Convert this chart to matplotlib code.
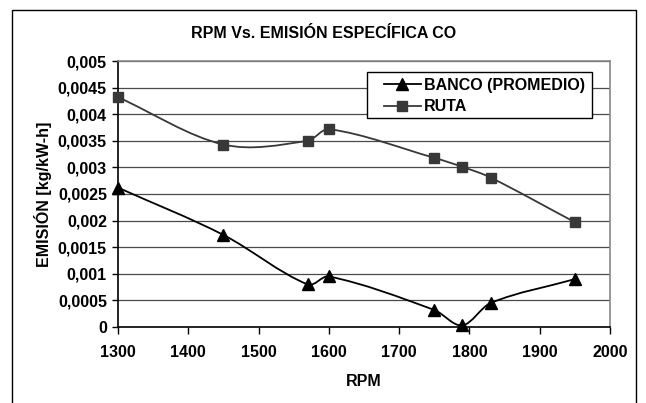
import numpy as np
import matplotlib.pyplot as plt
from matplotlib.path import Path
from matplotlib.patches import PathPatch, Rectangle
from matplotlib.lines import Line2D

plt.rcParams['font.family'] = ['Liberation Sans', 'DejaVu Sans']
plt.rcParams['font.weight'] = 'bold'

rpm = [1300, 1450, 1570, 1600, 1750, 1790, 1830, 1950]
banco = [0.00262, 0.00173, 0.00080, 0.00095, 0.00032, 0.00003, 0.00045, 0.00090]
ruta = [0.00432, 0.00343, 0.00350, 0.00372, 0.00318, 0.00301, 0.00281, 0.00197]

x_ticks = [1300, 1400, 1500, 1600, 1700, 1800, 1900, 2000]
y_ticks = [0, 0.0005, 0.001, 0.0015, 0.002, 0.0025, 0.003, 0.0035, 0.004, 0.0045, 0.005]
y_labels = ['0', '0,0005', '0,001', '0,0015', '0,002', '0,0025', '0,003',
            '0,0035', '0,004', '0,0045', '0,005']

FS = 11.5


def smooth_path(xs, ys):
    # smoothed line like excel: cubic hermite segments drawn as bezier curves
    x = np.asarray(xs, float)
    y = np.asarray(ys, float)
    n = len(x)
    m = np.zeros(n)
    for i in range(n):
        a = max(i - 1, 0)
        b = min(i + 1, n - 1)
        m[i] = (y[b] - y[a]) / (x[b] - x[a])
    verts = [(x[0], y[0])]
    codes = [Path.MOVETO]
    for i in range(n - 1):
        h = x[i + 1] - x[i]
        verts += [(x[i] + h / 3, y[i] + m[i] * h / 3),
                  (x[i + 1] - h / 3, y[i + 1] - m[i + 1] * h / 3),
                  (x[i + 1], y[i + 1])]
        codes += [Path.CURVE4] * 3
    return Path(verts, codes)


W, H = 646, 403
fig = plt.figure(figsize=(W / 100, H / 100), dpi=100)
fig.patches.append(Rectangle((12 / W, -0.01), 624 / W, 1 - 10 / H + 0.01,
                             transform=fig.transFigure, fill=False,
                             edgecolor='black', lw=1.0))
ax = fig.add_axes([118 / W, 1 - 327 / H, 492 / W, 266 / H])

for y in y_ticks[1:]:
    ax.axhline(y, color='#4a4a4a', lw=0.9, zorder=1)

series = [(banco, 'black', '^', 'BANCO (PROMEDIO)', 8),
          (ruta, '#383838', 's', 'RUTA', 7.5)]
handles = []
for vals, col, mk, lab, ms in series:
    ax.add_patch(PathPatch(smooth_path(rpm, vals), fill=False, edgecolor=col,
                           lw=1.3, zorder=3))
    ax.plot(rpm, vals, linestyle='none', marker=mk, markersize=ms,
            color=col, zorder=4, clip_on=False)
    handles.append(Line2D([], [], color=col, lw=1.3, marker=mk, markersize=ms))

ax.set_xlim(1300, 2000)
ax.set_ylim(0, 0.005)
ax.set_xticks(x_ticks)
ax.set_xticklabels([str(t) for t in x_ticks], fontsize=FS, fontweight='bold')
ax.set_yticks(y_ticks)
ax.set_yticklabels(y_labels, fontsize=FS, fontweight='bold')
ax.tick_params(axis='x', direction='out', length=5, width=1, pad=8)
ax.tick_params(axis='y', direction='out', length=4, width=1, pad=4)

for s in ['top', 'right']:
    ax.spines[s].set_color('#888888')
    ax.spines[s].set_linewidth(1.2)
for s in ['left', 'bottom']:
    ax.spines[s].set_color('black')
    ax.spines[s].set_linewidth(1.2)

ax.set_xlabel('RPM', fontsize=FS, fontweight='bold', labelpad=10)
ax.set_ylabel('EMISIÓN [kg/kW-h]', fontsize=FS, fontweight='bold', labelpad=4)
fig.text(324 / W, 1 - 33 / H, 'RPM Vs. EMISIÓN ESPECÍFICA CO',
         ha='center', va='center', fontsize=FS, fontweight='bold')

# legend box (drawn separately so its size matches the original)
fig.patches.append(Rectangle((367 / W, 1 - 118 / H), 225 / W, 46 / H,
                             transform=fig.transFigure, facecolor='white',
                             edgecolor='black', lw=1.0, zorder=5))
leg = fig.legend(handles, [s[3] for s in series], loc='center left',
                 bbox_to_anchor=(384 / W, 1 - 96 / H),
                 frameon=False, prop={'weight': 'bold', 'size': FS},
                 handlelength=2.3, handletextpad=0.2, borderpad=0,
                 labelspacing=0.4, borderaxespad=0)
leg.set_zorder(6)

fig.savefig('out.png', dpi=100)
